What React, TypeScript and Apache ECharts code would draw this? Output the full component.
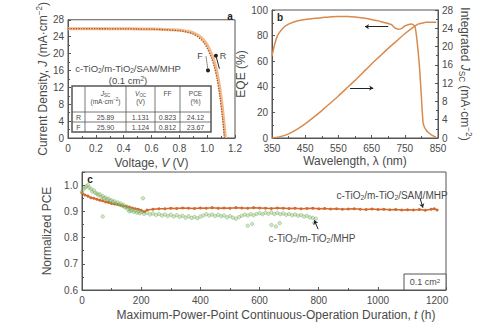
import React, { useEffect, useRef } from "react";
import * as echarts from "echarts";

// ---------- DATA ----------
// Panel a: J-V curves (V in volts, J in mA/cm2)
const jvReverse = [
  [0, 25.89], [0.1, 25.88], [0.2, 25.87], [0.3, 25.86], [0.4, 25.85], [0.5, 25.83], [0.6, 25.8],
  [0.7, 25.72], [0.8, 25.55], [0.85, 25.3], [0.9, 24.9], [0.95, 24.0], [0.98, 23.0], [1.0, 22.0],
  [1.03, 20.0], [1.05, 18.2], [1.07, 15.6], [1.09, 12.0], [1.11, 7.0], [1.131, 0],
];
const jvForward = [
  [0, 25.9], [0.1, 25.89], [0.2, 25.88], [0.3, 25.86], [0.4, 25.84], [0.5, 25.81], [0.6, 25.76],
  [0.7, 25.64], [0.8, 25.4], [0.85, 25.1], [0.9, 24.6], [0.95, 23.5], [0.98, 22.4], [1.0, 21.3],
  [1.03, 19.0], [1.05, 17.0], [1.07, 14.2], [1.09, 10.2], [1.11, 4.8], [1.124, 0],
];
const tableHeader = ["", "{i|J}{s|SC}\n{n|(mA·cm}{p|−2}{n|)}", "{i|V}{s|OC}\n{n|(V)}", "{n|FF}", "{n|PCE}\n{n|(%)}"];
const tableRows = [
  ["R", "25.89", "1.131", "0.823", "24.12"],
  ["F", "25.90", "1.124", "0.812", "23.67"],
];

// Panel b: EQE (%) and integrated Jsc (mA/cm2) vs wavelength (nm)
const eqeData = [
  [350, 64], [355, 70], [360, 75], [365, 79], [370, 81.5], [380, 85], [390, 87.5], [400, 89],
  [420, 91], [450, 92.5], [480, 93.5], [500, 94], [530, 94.8], [550, 95], [580, 95], [600, 94.5],
  [630, 93.5], [650, 92.5], [670, 91.5], [690, 90], [700, 89.5], [710, 88.5], [720, 86],
  [730, 85], [740, 85.5], [750, 87.5], [760, 88.5], [770, 89], [780, 87.5], [785, 80], [790, 68],
  [795, 53], [800, 32], [805, 12], [810, 8], [815, 6], [820, 4.5], [830, 2.5], [840, 1], [845, 0.3],
];
const jscData = [
  [350, 0], [375, 0.3], [400, 0.9], [425, 1.9], [450, 3.1], [475, 4.5], [500, 6.0], [525, 7.6],
  [550, 9.2], [575, 10.9], [600, 12.6], [625, 14.4], [650, 16.2], [675, 17.9], [700, 19.6],
  [725, 21.2], [750, 22.8], [775, 24.2], [790, 24.9], [800, 25.1], [815, 25.3], [845, 25.3],
];

// Panel c: normalized PCE vs time (h)
const samData = [
  [0, 0.97], [10, 0.962], [20, 0.958], [30, 0.952], [40, 0.95], [50, 0.946], [60, 0.942], [70, 0.94],
  [80, 0.936], [90, 0.934], [100, 0.93], [110, 0.928], [120, 0.926], [130, 0.923], [140, 0.92],
  [150, 0.918], [160, 0.916], [170, 0.913], [180, 0.91], [190, 0.908], [200, 0.904], [210, 0.898],
  [220, 0.905], [240, 0.908], [260, 0.91], [280, 0.91], [300, 0.912], [320, 0.911], [340, 0.913],
  [360, 0.912], [380, 0.911], [400, 0.913], [420, 0.912], [440, 0.914], [460, 0.912], [480, 0.913],
  [500, 0.912], [520, 0.914], [540, 0.913], [560, 0.912], [580, 0.914], [600, 0.913], [620, 0.912],
  [640, 0.911], [660, 0.913], [680, 0.912], [700, 0.911], [720, 0.912], [740, 0.91], [760, 0.911],
  [780, 0.912], [800, 0.91], [820, 0.911], [840, 0.909], [860, 0.91], [880, 0.908], [900, 0.909],
  [920, 0.91], [940, 0.908], [960, 0.907], [980, 0.909], [1000, 0.907], [1020, 0.908], [1040, 0.906],
  [1060, 0.907], [1080, 0.905], [1100, 0.906], [1120, 0.905], [1140, 0.907], [1160, 0.904],
  [1180, 0.908], [1190, 0.91], [1200, 0.905],
];
const mhpData = [
  [0, 0.975], [5, 0.985], [10, 0.99], [15, 0.995], [20, 1.0], [25, 0.99], [30, 0.985], [35, 0.975],
  [40, 0.98], [45, 0.97], [50, 0.968], [55, 0.962], [60, 0.965], [65, 0.955], [70, 0.958], [75, 0.95],
  [80, 0.952], [85, 0.945], [90, 0.948], [95, 0.94], [100, 0.942], [105, 0.935], [110, 0.938],
  [115, 0.93], [120, 0.934], [125, 0.926], [130, 0.93], [135, 0.922], [140, 0.925], [145, 0.915],
  [150, 0.918], [155, 0.908], [160, 0.912], [165, 0.902], [170, 0.906], [175, 0.898], [180, 0.903],
  [185, 0.895], [190, 0.9], [195, 0.893], [200, 0.897], [210, 0.89], [220, 0.895], [230, 0.888],
  [240, 0.892], [250, 0.886], [260, 0.89], [270, 0.884], [280, 0.888], [290, 0.882], [300, 0.887],
  [310, 0.88], [320, 0.885], [330, 0.879], [340, 0.883], [350, 0.876], [360, 0.881], [370, 0.875],
  [380, 0.879], [390, 0.874], [400, 0.88], [410, 0.884], [420, 0.889], [430, 0.884], [440, 0.888],
  [450, 0.882], [460, 0.887], [470, 0.881], [480, 0.884], [490, 0.877], [500, 0.882], [510, 0.876],
  [520, 0.872], [530, 0.878], [540, 0.883], [550, 0.888], [560, 0.884], [570, 0.889], [580, 0.885],
  [590, 0.89], [600, 0.893], [610, 0.889], [620, 0.895], [630, 0.891], [640, 0.896], [650, 0.89],
  [660, 0.894], [670, 0.889], [680, 0.892], [690, 0.887], [700, 0.89], [710, 0.885], [720, 0.888],
  [730, 0.883], [740, 0.886], [750, 0.88], [760, 0.883], [770, 0.877], [780, 0.875], [790, 0.872],
];
const mhpOutliers = [
  [70, 0.88], [206, 0.95], [160, 0.9], [560, 0.845], [575, 0.852], [640, 0.848], [655, 0.842],
  [668, 0.855], [785, 0.856],
];

// ---------- STYLE ----------
const FONT = "Liberation Sans, Arial, sans-serif";
const TXT = "#4a4a4a";
const AX = "#555";
const ORANGE = "#d2692e";
const ORANGE_LIGHT = "#f2b98a";
const ORANGE_B = "#d98a4e";
const GREEN = "rgba(135,185,105,0.45)";
const GREEN_EDGE = "rgba(110,165,85,0.8)";

const mkRich = (fs: number, lh = fs + 3) => ({
  i: { fontStyle: "italic", fontSize: fs, fontFamily: FONT, color: TXT, lineHeight: lh },
  s: { fontSize: fs * 0.68, fontFamily: FONT, color: TXT, verticalAlign: "bottom", lineHeight: fs * 0.68 },
  p: { fontSize: fs * 0.68, fontFamily: FONT, color: TXT, verticalAlign: "top", lineHeight: fs * 0.68 },
  n: { fontSize: fs, fontFamily: FONT, color: TXT, lineHeight: lh },
});

const plainNum = (v: number) => String(v);

const axisBase = (extra: any) => ({
  type: "value",
  nameLocation: "middle",
  axisLine: { show: true, onZero: false, lineStyle: { color: AX, width: 1 } },
  axisTick: { show: true, inside: true, length: 3, lineStyle: { color: AX } },
  minorTick: { show: true, splitNumber: 2, length: 2, lineStyle: { color: AX } },
  splitLine: { show: false },
  axisLabel: { color: TXT, fontSize: 10, fontFamily: FONT, margin: 4, formatter: plainNum },
  nameTextStyle: { color: TXT, fontSize: 12, fontFamily: FONT, rich: mkRich(12) },
  ...extra,
});

const arrowLine = (from: number[], to: number[], startSym = "none", endSym = "arrow") => [
  { coord: from, symbol: startSym },
  { coord: to, symbol: endSym },
];

// table layout (pixels)
const tCols = [72, 85, 126, 155, 180, 211];
const tRowsY = [86, 112, 122, 132];

function buildTable() {
  const els: any[] = [];
  const tRich = mkRich(6.5, 8);
  els.push({
    type: "rect",
    shape: { x: tCols[0], y: tRowsY[0], width: tCols[5] - tCols[0], height: tRowsY[3] - tRowsY[0] },
    style: { fill: "#fff", stroke: AX, lineWidth: 1.5 },
    z: 10,
  });
  for (let c = 1; c < tCols.length - 1; c++) {
    els.push({
      type: "line",
      shape: { x1: tCols[c], y1: tRowsY[0], x2: tCols[c], y2: tRowsY[3] },
      style: { stroke: AX, lineWidth: 0.8 },
      z: 11,
    });
  }
  for (let r = 1; r < tRowsY.length - 1; r++) {
    els.push({
      type: "line",
      shape: { x1: tCols[0], y1: tRowsY[r], x2: tCols[5], y2: tRowsY[r] },
      style: { stroke: AX, lineWidth: 0.8 },
      z: 11,
    });
  }
  tableHeader.forEach((h, c) => {
    if (!h) return;
    els.push({
      type: "text",
      x: (tCols[c] + tCols[c + 1]) / 2,
      y: tRowsY[0] + 3,
      z: 12,
      style: {
        text: h,
        rich: tRich,
        align: "center",
        verticalAlign: "top",
        fontFamily: FONT,
        fontSize: 6.5,
        fill: TXT,
      },
    });
  });
  tableRows.forEach((row, r) => {
    row.forEach((cell, c) => {
      els.push({
        type: "text",
        x: (tCols[c] + tCols[c + 1]) / 2,
        y: (tRowsY[r + 1] + tRowsY[r + 2]) / 2,
        z: 12,
        style: { text: cell, align: "center", verticalAlign: "middle", fontFamily: FONT, fontSize: 7, fill: TXT },
      });
    });
  });
  return els;
}

function txt(x: number, y: number, text: string, fs: number, extra: any = {}) {
  return {
    type: "text",
    x,
    y,
    z: 20,
    style: {
      text,
      rich: mkRich(fs, fs + 1),
      fontFamily: FONT,
      fontSize: fs,
      fill: TXT,
      align: "center",
      verticalAlign: "middle",
      ...extra,
    },
  };
}

const markArrows = (lines: any[], dashed = false) => ({
  silent: true,
  animation: false,
  symbolSize: 4,
  label: { show: false },
  lineStyle: { color: "#222", width: 1, type: dashed ? "dotted" : "solid" },
  itemStyle: { color: "#222" },
  emphasis: { disabled: true },
  data: lines,
});

const option: any = {
  animation: false,
  backgroundColor: "#fff",
  grid: [
    { left: 68, top: 10, width: 167, height: 128, show: true, borderColor: AX, borderWidth: 1, backgroundColor: "transparent" },
    { left: 272, top: 10, width: 166, height: 128, show: true, borderColor: AX, borderWidth: 1, backgroundColor: "transparent" },
    { left: 82, top: 172, width: 364, height: 118, show: true, borderColor: AX, borderWidth: 1, backgroundColor: "transparent" },
  ],
  xAxis: [
    axisBase({
      gridIndex: 0, min: 0, max: 1.2, interval: 0.2,
      name: "{n|Voltage, }{i|V}{n| (V)}", nameGap: 17,
      axisLabel: { color: TXT, fontSize: 10, fontFamily: FONT, margin: 5, formatter: (v: number) => (v === 0 ? "0" : v.toFixed(1)) },
    }),
    axisBase({
      gridIndex: 1, min: 350, max: 850, interval: 100,
      name: "Wavelength, λ (nm)", nameGap: 17,
      axisLabel: { color: TXT, fontSize: 10, fontFamily: FONT, margin: 5, formatter: plainNum },
    }),
    axisBase({
      gridIndex: 2, min: 0, max: 1230, interval: 200,
      name: "{n|Maximum-Power-Point Continuous-Operation Duration, }{i|t}{n| (h)}", nameGap: 17,
      nameTextStyle: { color: TXT, fontSize: 12, fontFamily: FONT, rich: mkRich(12), padding: [0, 0, 0, 24] },
      axisLabel: { color: TXT, fontSize: 10, fontFamily: FONT, margin: 5, showMaxLabel: false, formatter: plainNum },
    }),
  ],
  yAxis: [
    axisBase({
      gridIndex: 0, min: 0, max: 28, interval: 4,
      name: "{n|Current Density, }{i|J}{n| (mA·cm}{p|−2}{n|)}", nameGap: 18,
    }),
    axisBase({
      gridIndex: 1, min: 0, max: 100, interval: 20,
      name: "EQE (%)", nameGap: 20,
    }),
    axisBase({
      gridIndex: 1, min: 0, max: 28, interval: 4, position: "right",
      name: "{n|Integrated }{i|J}{s|SC}{n| (mA·cm}{p|−2}{n|)}", nameGap: 16, nameRotate: -90,
    }),
    axisBase({
      gridIndex: 2, min: 0.6, max: 1.05, interval: 0.1,
      name: "Normalized PCE", nameGap: 22,
      axisLabel: { color: TXT, fontSize: 10, fontFamily: FONT, margin: 4, showMaxLabel: false, formatter: (v: number) => v.toFixed(1) },
    }),
  ],
  series: [
    {
      type: "line", xAxisIndex: 0, yAxisIndex: 0, data: jvReverse, showSymbol: false, smooth: 0.3,
      lineStyle: { color: ORANGE_LIGHT, width: 3 }, z: 3,
      markLine: markArrows([arrowLine([1.063, 19.5], [1.088, 16.4], "circle", "none")]),
    },
    {
      type: "line", xAxisIndex: 0, yAxisIndex: 0, data: jvForward, showSymbol: false, smooth: 0.3,
      lineStyle: { color: "#a9501f", width: 1.3, type: "dotted" }, z: 4,
      markLine: markArrows([arrowLine([0.992, 19.3], [1.006, 16.0], "none", "circle")], true),
    },
    {
      type: "line", xAxisIndex: 1, yAxisIndex: 1, data: eqeData, showSymbol: false, smooth: 0.2,
      lineStyle: { color: ORANGE_B, width: 1.5 },
      markLine: markArrows([arrowLine([700, 87], [630, 87]), arrowLine([585, 39], [655, 39])]),
    },
    {
      type: "line", xAxisIndex: 1, yAxisIndex: 2, data: jscData, showSymbol: false, smooth: 0.2,
      lineStyle: { color: ORANGE_B, width: 1.5 },
    },
    {
      type: "line", xAxisIndex: 2, yAxisIndex: 3, data: samData, showSymbol: true, symbol: "circle", symbolSize: 3,
      itemStyle: { color: ORANGE }, lineStyle: { color: ORANGE, width: 1.5 }, z: 3,
      markLine: markArrows([arrowLine([1142, 0.951], [1152, 0.914])]),
    },
    {
      type: "scatter", xAxisIndex: 2, yAxisIndex: 3, data: mhpData, symbolSize: 3.5,
      itemStyle: { color: GREEN, borderColor: GREEN_EDGE, borderWidth: 0.6 }, z: 4,
    },
    {
      type: "scatter", xAxisIndex: 2, yAxisIndex: 3, data: mhpOutliers, symbolSize: 3.5,
      itemStyle: { color: GREEN, borderColor: GREEN_EDGE, borderWidth: 0.6 }, z: 4,
      markLine: markArrows([arrowLine([798, 0.832], [785, 0.866])]),
    },
  ],
  graphic: [
    ...buildTable(),
    txt(230, 16, "a", 10, { fontWeight: "bold", fill: "#222" }),
    txt(280, 17, "b", 10, { fontWeight: "bold", fill: "#222" }),
    txt(90, 179, "c", 10, { fontWeight: "bold", fill: "#222" }),
    txt(200, 56, "F", 9),
    txt(223, 56, "R", 9),
    txt(128, 68, "{n|c-TiO}{s|2}{n|/m-TiO}{s|2}{n|/SAM/MHP}", 9.5),
    txt(128, 80.5, "{n|(0.1 cm}{p|2}{n|)}", 9.5),
    txt(392, 195, "{n|c-TiO}{s|2}{n|/m-TiO}{s|2}{n|/SAM/MHP}", 10),
    txt(312, 238, "{n|c-TiO}{s|2}{n|/m-TiO}{s|2}{n|/MHP}", 10),
    {
      type: "rect", z: 20,
      shape: { x: 404, y: 274, width: 42, height: 16 },
      style: { fill: "#fff", stroke: AX, lineWidth: 1 },
    },
    txt(425, 282, "{n|0.1 cm}{p|2}", 9),
  ],
};

export default function App() {
  const ref = useRef<HTMLDivElement>(null);
  useEffect(() => {
    const chart = echarts.init(ref.current!, null, { renderer: "svg" });
    chart.setOption(option);
    return () => chart.dispose();
  }, []);
  return (
    <div
      ref={ref}
      style={{ position: "fixed", left: 0, top: 0, width: 500, height: 330, background: "#fff" }}
    />
  );
}
